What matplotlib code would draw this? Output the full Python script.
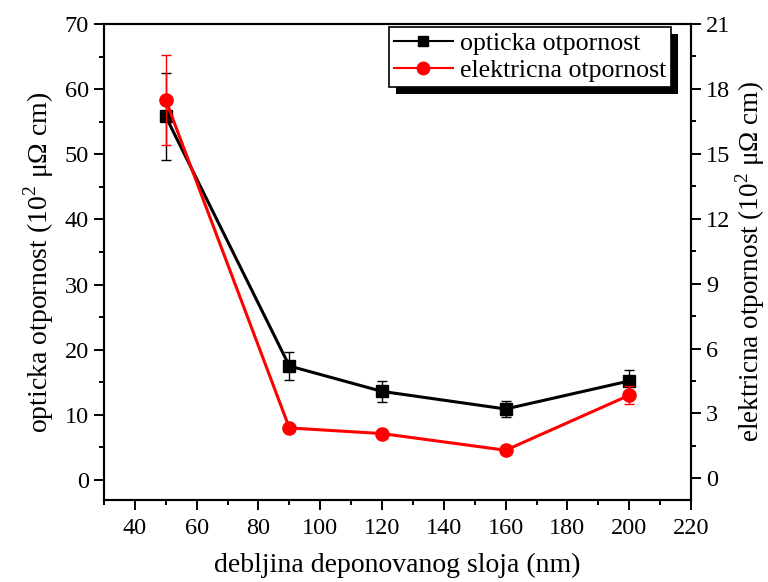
import matplotlib
matplotlib.use("Agg")
import matplotlib.pyplot as plt
from matplotlib.ticker import MultipleLocator
from matplotlib.lines import Line2D
from matplotlib.patches import Rectangle

plt.rcParams['font.family'] = ['Liberation Serif', 'DejaVu Serif']
plt.rcParams['mathtext.fontset'] = 'custom'
plt.rcParams['mathtext.rm'] = 'Liberation Serif'

thickness = [50, 90, 120, 160, 200]
optical = [55.8, 17.5, 13.6, 10.9, 15.2]
optical_err = [6.7, 2.1, 1.6, 1.3, 1.7]
electrical = [17.48, 2.33, 2.07, 1.30, 3.84]
electrical_err = [2.09, 0.15, 0.12, 0.1, 0.42]

xlabel = "debljina deponovanog sloja (nm)"
ylabel_left = "opticka otpornost (10$^2$ μΩ cm)"
ylabel_right = "elektricna otpornost (10$^2$ μΩ cm)"
legend_labels = ['opticka otpornost', 'elektricna otpornost']

fig = plt.figure(figsize=(7.68, 5.82), dpi=100)
ax = fig.add_axes([0.1354, 0.1409, 0.7643, 0.8179])
ax2 = ax.twinx()

ax.errorbar(thickness, optical, yerr=optical_err, color='black', marker='s',
            markersize=8, lw=2.2, capsize=3.5, elinewidth=1, capthick=1, zorder=3)
ax2.errorbar(thickness, electrical, yerr=electrical_err, color='red', marker='o',
             markersize=9.5, lw=2.2, capsize=3.5, elinewidth=1, capthick=1, zorder=3)

ax.set_xlim(30, 220)
ax.set_ylim(-3.07, 70)
ax2.set_ylim(-1.0, 21)
ax.xaxis.set_major_locator(MultipleLocator(20))
ax.xaxis.set_minor_locator(MultipleLocator(10))
ax.yaxis.set_major_locator(MultipleLocator(10))
ax.yaxis.set_minor_locator(MultipleLocator(5))
ax2.yaxis.set_major_locator(MultipleLocator(3))
ax2.yaxis.set_minor_locator(MultipleLocator(1.5))

for a in (ax, ax2):
    a.tick_params(which='major', direction='out', length=7, width=1.4, labelsize=17.5, pad=4)
    a.tick_params(which='minor', direction='out', length=3.5, width=1.4)
    for s in a.spines.values():
        s.set_linewidth(1.5)
ax.tick_params(axis='x', pad=6)

ax.set_xlabel(xlabel, fontsize=20, labelpad=10)
ax.set_ylabel(ylabel_left, fontsize=20, labelpad=6)
ax2.set_ylabel(ylabel_right, fontsize=19.5, labelpad=2)

handles = [Line2D([], [], color='black', marker='s', markersize=7.5, lw=1.5),
           Line2D([], [], color='red', marker='o', markersize=9, lw=1.5)]
leg = ax2.legend(handles, legend_labels,
                 loc='upper right', bbox_to_anchor=(0.966, 0.994), fontsize=18.6,
                 frameon=True, fancybox=False, framealpha=1, edgecolor='black',
                 handlelength=2.3, borderpad=0.2, labelspacing=0.15,
                 handletextpad=0.25, borderaxespad=0)
leg.get_frame().set_linewidth(1.2)
leg.set_zorder(10)

fig.canvas.draw()
bb = leg.get_window_extent()
shadow = Rectangle((bb.x0 + 7, bb.y0 - 7), bb.width, bb.height, transform=None,
                   facecolor='black', edgecolor='none', zorder=9, clip_on=False)
ax2.add_artist(shadow)

fig.savefig('out.png', dpi=100)
